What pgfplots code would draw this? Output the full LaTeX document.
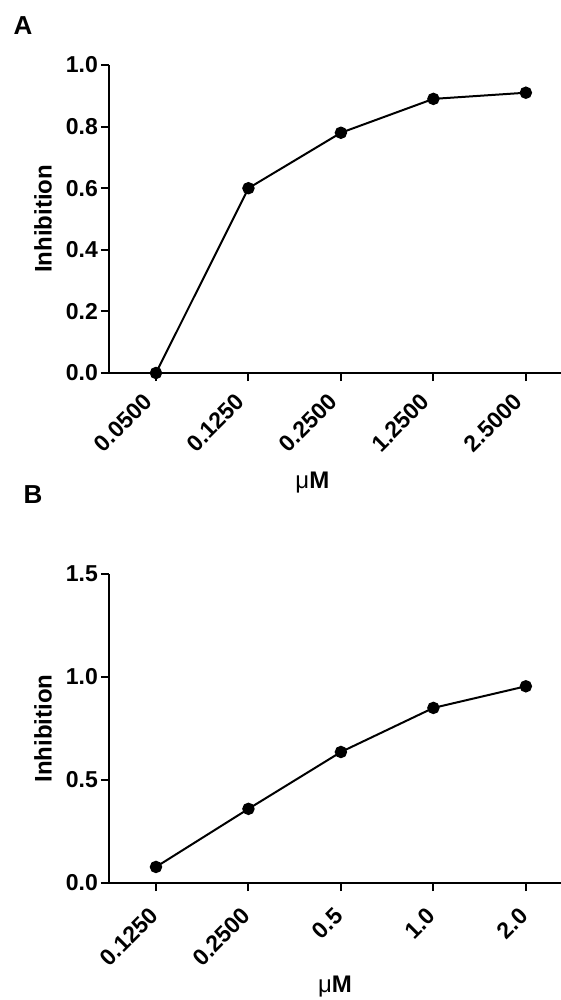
\documentclass[border=0pt]{standalone}
\usepackage{fontspec}
\setmainfont{Liberation Sans}
\usepackage{pgfplots}
\pgfplotsset{compat=1.18}

\pgfplotsset{
  prism/.style={
    scale only axis, width=226pt, height=154pt,
    axis lines*=left,
    axis line style={line width=1pt},
    every tick/.style={line width=1pt, black},
    tick align=outside, major tick length=4pt,
    xmin=-0.508, xmax=4.38, ymin=0,
    xtick={0,...,4},
    /pgf/number format/assume math mode=true,
    tick label style={font=\fontsize{11.5}{12}\selectfont\bfseries},
    yticklabel style={xshift=2pt, /pgf/number format/.cd, fixed, fixed zerofill, precision=1},
    ylabel={Inhibition},
    ylabel style={font=\fontsize{12}{13}\selectfont\bfseries, at={(axis description cs:-0.146,0.5)}, anchor=center},
    xlabel={{\mdseries μ}M},
    label style={font=\fontsize{12}{13}\selectfont\bfseries},
    clip=false,
  },
  curve/.style={black, line width=1pt, mark=*, mark size=2.6pt, mark options={fill=black}},
}

\begin{document}
\begin{tikzpicture}
\useasboundingbox (0,0) rectangle (280.5pt,-500pt);

\begin{axis}[prism, at={(54.5pt,-186.5pt)}, anchor=south west,
    ymax=1.0, ytick={0,0.2,0.4,0.6,0.8,1.0},
    xticklabels={0.0500,0.1250,0.2500,1.2500,2.5000},
    xticklabel style={xshift=-7pt, yshift=-4pt, rotate=45, anchor=north east, inner sep=1pt},
    xlabel style={at={(axis description cs:0.45,0)}, yshift=-55pt, anchor=center},
]
\addplot[curve] coordinates {(0,0) (1,0.60) (2,0.78) (3,0.89) (4,0.91)};
\node[font=\fontsize{13}{14}\selectfont\bfseries] at (rel axis cs:0,1) [xshift=-43pt, yshift=19.5pt] {A};
\end{axis}

\begin{axis}[prism, at={(54.5pt,-441.5pt)}, anchor=south west,
    height=154.5pt,
    ymax=1.5, ytick={0,0.5,1.0,1.5},
    xticklabels={0.1250,0.2500,0.5,1.0,2.0},
    xticklabel style={xshift=-4pt, yshift=-6pt, rotate=45, anchor=north east, inner sep=1pt},
    xlabel style={at={(axis description cs:0.50,0)}, yshift=-52pt, anchor=center},
]
\addplot[curve] coordinates {(0,0.078) (1,0.36) (2,0.636) (3,0.85) (4,0.955)};
\node[font=\fontsize{13}{14}\selectfont\bfseries] at (rel axis cs:0,1) [xshift=-38pt, yshift=39.5pt] {B};
\end{axis}
\end{tikzpicture}
\end{document}
